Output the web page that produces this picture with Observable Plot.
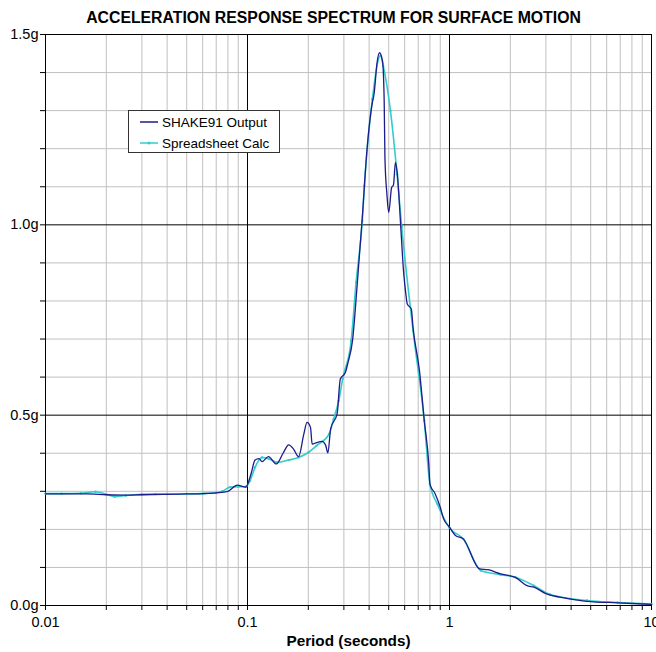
<!DOCTYPE html>
<html>
<head>
<meta charset="utf-8">
<script src="https://cdn.jsdelivr.net/npm/d3@7"></script>
<script src="https://cdn.jsdelivr.net/npm/@observablehq/plot@0.6"></script>
<style>
  html, body { margin: 0; padding: 0; background: #fff; }
  #wrap { position: relative; width: 656px; height: 652px; font-family: "Liberation Sans", Arial, sans-serif; }
  #legend { position: absolute; left: 128px; top: 110px; width: 152px; height: 43px; background: #fff; border: 1px solid #333; box-sizing: border-box; font-size: 13.5px; color: #000; }
  #legend .row { position: absolute; left: 10px; height: 16px; display: flex; align-items: center; }
  #legend svg { margin-right: 3px; }
</style>
</head>
<body>
<div id="wrap"></div>
<script>
// SHAKE91 output (period s, spectral acceleration g)
const shakePeriod = [0.010,0.013,0.016,0.020,0.025,0.030,0.040,0.050,0.060,0.070,0.080,0.089,0.098,0.104,0.109,0.114,0.118,0.127,0.139,0.150,0.160,0.169,0.179,0.190,0.197,0.205,0.209,0.220,0.234,0.244,0.250,0.258,0.278,0.288,0.305,0.315,0.331,0.350,0.369,0.390,0.415,0.423,0.438,0.450,0.466,0.475,0.479,0.490,0.500,0.517,0.528,0.540,0.551,0.574,0.592,0.608,0.618,0.647,0.660,0.710,0.750,0.790,0.800,0.850,0.900,0.935,1.000,1.070,1.170,1.410,1.550,1.790,2.120,2.420,2.620,3.000,3.800,4.800,6.800,10.00];
const shakeSa     = [0.293,0.293,0.293,0.291,0.290,0.291,0.292,0.293,0.294,0.296,0.300,0.316,0.311,0.345,0.382,0.386,0.378,0.391,0.372,0.400,0.422,0.411,0.391,0.450,0.481,0.468,0.424,0.428,0.431,0.420,0.401,0.464,0.505,0.595,0.612,0.640,0.696,0.850,1.010,1.194,1.321,1.343,1.426,1.452,1.430,1.325,1.177,1.080,1.032,1.098,1.105,1.164,1.137,0.993,0.879,0.818,0.792,0.779,0.730,0.617,0.486,0.370,0.319,0.293,0.258,0.228,0.206,0.184,0.175,0.096,0.094,0.083,0.074,0.052,0.048,0.031,0.019,0.011,0.007,0.003];

// Spreadsheet calculation
const calcPeriod = [0.010,0.012,0.015,0.0177,0.020,0.022,0.025,0.030,0.035,0.040,0.050,0.060,0.070,0.075,0.082,0.090,0.098,0.103,0.109,0.118,0.128,0.140,0.160,0.179,0.200,0.220,0.254,0.267,0.283,0.296,0.326,0.345,0.370,0.379,0.415,0.455,0.470,0.510,0.550,0.580,0.660,0.750,0.800,0.870,1.000,1.170,1.430,1.790,2.120,2.620,3.150,4.800,6.800,10.00];
const calcSa     = [0.294,0.294,0.295,0.299,0.292,0.286,0.289,0.292,0.293,0.293,0.293,0.294,0.296,0.300,0.311,0.312,0.312,0.328,0.363,0.389,0.385,0.376,0.382,0.389,0.402,0.420,0.451,0.490,0.538,0.596,0.696,0.850,1.010,1.102,1.330,1.444,1.417,1.300,1.133,0.995,0.722,0.486,0.319,0.267,0.204,0.175,0.092,0.081,0.074,0.052,0.029,0.013,0.008,0.004];

const seriesNames = ["SHAKE91 Output", "Spreadsheet Calc"];
const seriesColors = ["#1c1c8a", "#33cccc"];

const xDecades = [0.01, 0.1, 1, 10];
const xDecadeLabels = ["0.01", "0.1", "1", "10"];
const xMinor = [0.02,0.03,0.04,0.05,0.06,0.07,0.08,0.09,0.2,0.3,0.4,0.5,0.6,0.7,0.8,0.9,2,3,4,5,6,7,8,9];
const yTicks = [0,0.1,0.2,0.3,0.4,0.5,0.6,0.7,0.8,0.9,1.0,1.1,1.2,1.3,1.4,1.5];
const yMajor = [0, 0.5, 1.0, 1.5];
const yMajorLabels = ["0.0g", "0.5g", "1.0g", "1.5g"];
const yMinor = [0.1,0.2,0.3,0.4,0.6,0.7,0.8,0.9,1.1,1.2,1.3,1.4];

const title = "ACCELERATION RESPONSE SPECTRUM FOR SURFACE MOTION";
const xTitle = "Period (seconds)";

const shake = shakePeriod.map((t, i) => ({t, sa: shakeSa[i]}));
const calc = calcPeriod.map((t, i) => ({t, sa: calcSa[i]}));
const allX = [...xDecades, ...xMinor].sort((a, b) => a - b);

const chart = Plot.plot({
  width: 656,
  height: 652,
  marginTop: 34,
  marginLeft: 45,
  marginRight: 5,
  marginBottom: 47,
  style: {fontFamily: '"Liberation Sans", Arial, sans-serif', fontSize: "14px", background: "#fff", color: "#000", overflow: "visible"},
  x: {type: "log", domain: [0.01, 10]},
  y: {domain: [0, 1.5]},
  marks: [
    Plot.ruleY(yMinor, {stroke: "#c0c0c0", strokeWidth: 1}),
    Plot.ruleX(xMinor, {stroke: "#c0c0c0", strokeWidth: 1}),
    Plot.ruleY([0.5, 1.0], {stroke: "#000", strokeWidth: 1}),
    Plot.ruleX([0.1, 1], {stroke: "#000", strokeWidth: 1}),
    Plot.frame({stroke: "#000", strokeWidth: 1}),
    Plot.line(calc, {x: "t", y: "sa", stroke: seriesColors[1], strokeWidth: 1.6, curve: "monotone-x"}),
    Plot.dot(calc, {x: "t", y: "sa", fill: seriesColors[1], r: 1.2}),
    Plot.line(shake, {x: "t", y: "sa", stroke: seriesColors[0], strokeWidth: 1.3, curve: "monotone-x"}),
    Plot.axisY({ticks: yTicks, tickSize: 5, tickPadding: 2, label: null, fontSize: 14.5,
      tickFormat: d => { const i = yMajor.findIndex(v => Math.abs(v - d) < 1e-9); return i >= 0 ? yMajorLabels[i] : ""; }}),
    Plot.axisX({ticks: allX, tickSize: 5, tickPadding: 6, label: null, fontSize: 14.5,
      tickFormat: d => { const i = xDecades.findIndex(v => Math.abs(v - d) / v < 1e-6); return i >= 0 ? xDecadeLabels[i] : ""; }}),
    Plot.text([title], {frameAnchor: "top", dx: -15, dy: -23, fontSize: 15.8, fontWeight: "bold", fill: "#000"}),
    Plot.text([xTitle], {frameAnchor: "bottom", dy: 40, fontSize: 15.3, fontWeight: "bold", fill: "#000"})
  ]
});

const wrap = document.getElementById("wrap");
wrap.appendChild(chart);

const legend = document.createElement("div");
legend.id = "legend";
seriesNames.forEach((name, i) => {
  const row = document.createElement("div");
  row.className = "row";
  row.style.top = (i === 0 ? 3 : 24) + "px";
  const marker = i === 1 ? `<circle cx="10" cy="6" r="1.5" fill="${seriesColors[i]}"/>` : "";
  row.innerHTML = `<svg width="20" height="12"><line x1="1" x2="19" y1="6" y2="6" stroke="${seriesColors[i]}" stroke-width="1.5"/>${marker}</svg><span>${name}</span>`;
  legend.appendChild(row);
});
wrap.appendChild(legend);
</script>
</body>
</html>
